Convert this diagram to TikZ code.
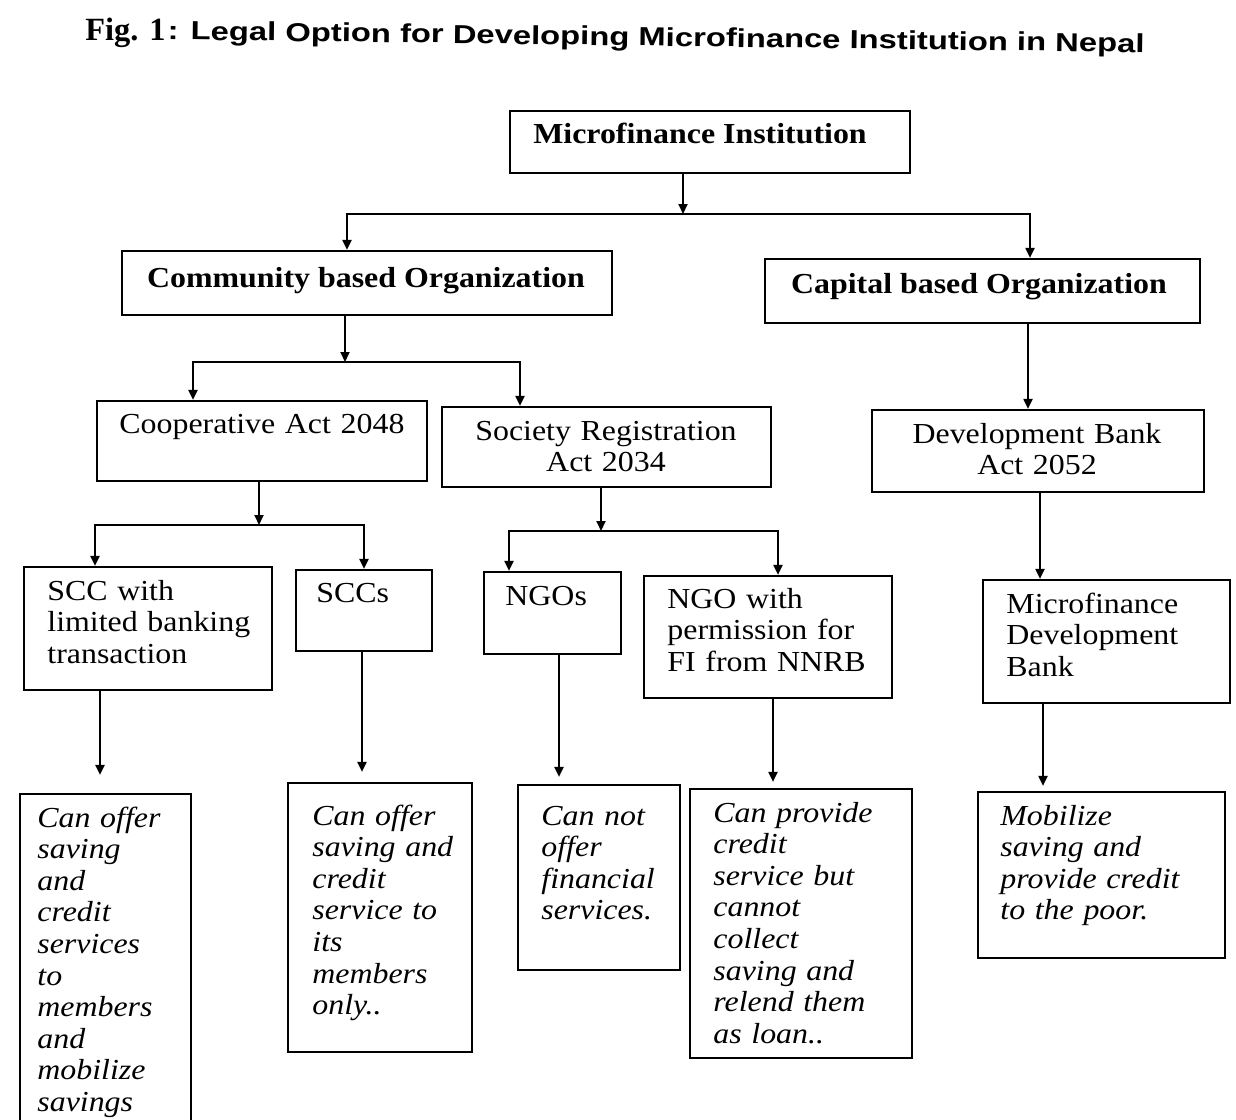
\documentclass[tikz,border=0pt]{standalone}
\usepackage{fontspec}
\setmainfont{Liberation Serif}[FakeStretch=1.1]
\newfontfamily\figfont{Liberation Serif}
\newfontfamily\titlefont{Liberation Sans}[FakeStretch=1.26]
\usetikzlibrary{arrows.meta,fit}
\tikzset{box/.style = {draw,line width=1.1pt,inner sep=0pt},
         arr/.style = {line width=1pt,-{Triangle[length=5pt,width=4.5pt]}},
         head/.style = {inner sep=0pt,anchor=base,font=\bfseries},
         lab/.style = {inner sep=0pt,anchor=base west,text width=170pt,align=left},
         mid/.style = {inner sep=0pt,anchor=base,text width=160pt,align=center},
         note/.style = {lab,font=\itshape}}

\begin{document}
\fontsize{14.5pt}{15.8pt}\selectfont
\begin{tikzpicture}[x=0.5pt,y=-0.5pt]
                \useasboundingbox (0,0) rectangle (1236,1119);
                \clip (0,0) rectangle (1236,1119);
                % title
                \node [inner sep=0pt,anchor=base west,font=\figfont\bfseries\fontsize{16.2pt}{18pt}\selectfont] (fig) at (85,40) {Fig. 1};
                \node [inner sep=0pt,anchor=base,rotate=-0.77,font=\titlefont\bfseries\fontsize{13pt}{15pt}\selectfont] (title) at (656,46) {: Legal Option for Developing Microfinance Institution in Nepal};
                % boxes
                \foreach \n/\xa/\ya/\xb/\yb in {mi/510/111/910/173, cbo/122/251/612/315, kbo/765/259/1200/323,
                    coop/97/401/427/481, soc/442/407/771/487, dev/872/410/1204/492,
                    sccl/24/567/272/690, sccs/296/570/432/651, ngo/484/572/621/654, ngop/644/576/892/698, mdb/983/580/1230/703,
                    b1/20/794/191/1140, b2/288/783/472/1052, b3/518/785/680/970, b4/690/789/912/1058, b5/978/792/1225/958} {
                    \node [box,fit={(\xa,\ya) (\xb,\yb)}] (\n) {};
                }
                % texts
                \node [head] (mi-t) at (700,143) {Microfinance Institution};
                \node [head] (cbo-t) at (366,287) {Community based Organization};
                \node [head] (kbo-t) at (979,293) {Capital based Organization};
                \node [lab] (coop-t) at (119,433) {Cooperative Act 2048};
                \node [mid] (soc-t) at (606,440) {Society Registration\\Act 2034};
                \node [mid] (dev-t) at (1037,443) {Development Bank\\Act 2052};
                \node [lab] (sccl-t) at (47,600) {SCC with\\limited banking\\transaction};
                \node [lab] (sccs-t) at (316,602) {SCCs};
                \node [lab] (ngo-t) at (505,605) {NGOs};
                \node [lab] (ngop-t) at (667,608) {NGO with\\permission for\\FI from NNRB};
                \node [lab] (mdb-t) at (1006,613) {Microfinance\\Development\\Bank};
                \node [note] (b1-t) at (37,827) {Can offer\\saving\\and\\credit\\services\\to\\members\\and\\mobilize\\savings};
                \node [note] (b2-t) at (312,825) {Can offer\\saving and\\credit\\service to\\its\\members\\only..};
                \node [note] (b3-t) at (541,825) {Can not\\offer\\financial\\services.};
                \node [note] (b4-t) at (713,822) {Can provide\\credit\\service but\\cannot\\collect\\saving and\\relend them\\as loan..};
                \node [note] (b5-t) at (1000,825) {Mobilize\\saving and\\provide credit\\to the poor.};
                % connectors
                \coordinate (bus1) at (683,214);
                \coordinate (bus2) at (345,362);
                \coordinate (bus3) at (259,525);
                \coordinate (bus4) at (601,531);
                \draw [arr] (mi.south -| bus1) -- (bus1);
                \draw [arr] (bus1) -| (cbo.north -| 347,0);
                \draw [arr] (bus1) -| (kbo.north -| 1030,0);
                \draw [arr] (cbo.south -| bus2) -- (bus2);
                \draw [arr] (bus2) -| (coop.north -| 193,0);
                \draw [arr] (bus2) -| (soc.north -| 520,0);
                \draw [arr] (coop.south -| bus3) -- (bus3);
                \draw [arr] (bus3) -| (sccl.north -| 95,0);
                \draw [arr] (bus3) -| (sccs.north -| 364,0);
                \draw [arr] (soc.south -| bus4) -- (bus4);
                \draw [arr] (bus4) -| (ngo.north -| 509,0);
                \draw [arr] (bus4) -| (ngop.north -| 778,0);
                \draw [arr] (kbo.south -| 1028,0) -- (dev.north -| 1028,0);
                \draw [arr] (dev.south -| 1040,0) -- (mdb.north -| 1040,0);
                \foreach \a/\b/\x/\s in {sccl/b1/100/9pt, sccs/b2/362/5pt, ngo/b3/559/3.5pt, ngop/b4/773/3pt, mdb/b5/1043/2.5pt} {
                    \draw [arr,shorten >=\s] (\a.south -| \x,0) -- (\b.north -| \x,0);
                }
\end{tikzpicture}
\end{document}
